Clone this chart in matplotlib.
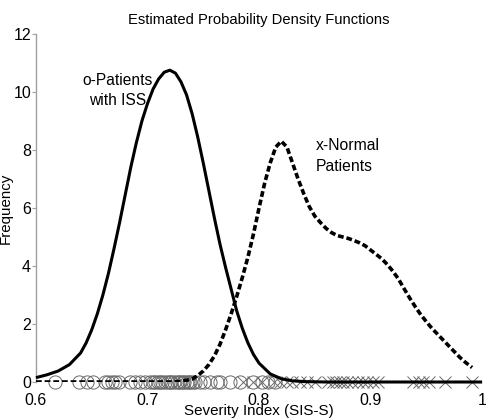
import numpy as np
from matplotlib import pyplot as plt

plt.rcParams['font.family'] = ['Liberation Sans', 'DejaVu Sans']

# Estimated density curves
iss_x = [0.60, 0.61, 0.62, 0.63, 0.64, 0.645, 0.65, 0.655, 0.66, 0.665, 0.67, 0.675, 0.68,
         0.685, 0.69, 0.695, 0.70, 0.705, 0.71, 0.715, 0.72, 0.725, 0.73, 0.735, 0.74, 0.745,
         0.75, 0.755, 0.76, 0.765, 0.77, 0.775, 0.78, 0.785, 0.79, 0.795, 0.80, 0.81, 0.82,
         0.83, 0.84, 0.86, 0.90, 0.95, 1.00]
iss_y = [0.15, 0.25, 0.38, 0.60, 1.00, 1.35, 1.80, 2.35, 3.00, 3.75, 4.60, 5.50, 6.45,
         7.40, 8.25, 9.00, 9.60, 10.10, 10.45, 10.68, 10.75, 10.65, 10.35, 9.90, 9.25, 8.45,
         7.55, 6.60, 5.65, 4.75, 3.95, 3.20, 2.45, 1.85, 1.35, 0.95, 0.65, 0.28, 0.11,
         0.04, 0.015, 0.0, 0.0, 0.0, 0.0]

normal_x = [0.60, 0.65, 0.70, 0.72, 0.73, 0.74, 0.745, 0.75, 0.755, 0.76, 0.765, 0.77, 0.775,
            0.78, 0.785, 0.79, 0.795, 0.80, 0.805, 0.81, 0.815, 0.82, 0.825, 0.83, 0.835, 0.84,
            0.845, 0.85, 0.855, 0.86, 0.865, 0.87, 0.875, 0.88, 0.885, 0.89, 0.895, 0.90, 0.905,
            0.91, 0.915, 0.92, 0.925, 0.93, 0.935, 0.94, 0.945, 0.95, 0.955, 0.96, 0.965, 0.97,
            0.975, 0.98, 0.985, 0.991]
normal_y = [0.0, 0.0, 0.0, 0.0, 0.02, 0.10, 0.22, 0.38, 0.60, 0.90, 1.30, 1.80, 2.35,
            2.95, 3.60, 4.30, 5.10, 6.00, 6.85, 7.55, 8.10, 8.30, 8.10, 7.55, 7.00, 6.50,
            6.05, 5.72, 5.50, 5.30, 5.15, 5.05, 5.00, 4.95, 4.88, 4.80, 4.70, 4.55, 4.40,
            4.25, 4.05, 3.82, 3.55, 3.22, 2.90, 2.60, 2.32, 2.08, 1.85, 1.65, 1.45, 1.25,
            1.05, 0.85, 0.68, 0.50]

# Observed severity indices (rug markers)
iss_obs = [0.617, 0.639, 0.646, 0.651, 0.662, 0.665, 0.668, 0.671, 0.674, 0.684, 0.689, 0.693,
           0.698, 0.702, 0.705, 0.707, 0.709, 0.711, 0.713, 0.716, 0.718, 0.720, 0.721, 0.724,
           0.726, 0.728, 0.729, 0.732, 0.733, 0.735, 0.737, 0.738, 0.741, 0.743, 0.747, 0.751,
           0.756, 0.762, 0.765, 0.774, 0.783, 0.795, 0.803, 0.808, 0.814]
normal_obs = [0.786, 0.795, 0.803, 0.813, 0.819, 0.825, 0.830, 0.837, 0.843, 0.850, 0.862,
              0.866, 0.869, 0.873, 0.875, 0.879, 0.883, 0.889, 0.893, 0.897, 0.902, 0.907,
              0.938, 0.943, 0.947, 0.952, 0.967, 0.991]

fig = plt.figure(figsize=(4.86, 4.19), dpi=100)
ax = fig.add_axes([0.074, 0.0883, 0.918, 0.8307])

ax.plot(iss_obs, np.zeros(len(iss_obs)), 'o', ms=9.5, mfc='none', mec='#6a6a6a', mew=0.7,
        clip_on=False, zorder=2)
ax.plot(normal_obs, np.zeros(len(normal_obs)), 'x', ms=8, mec='#6a6a6a', mew=0.7,
        clip_on=False, zorder=2)

ax.plot(iss_x, iss_y, color='black', lw=2.2, solid_capstyle='butt', clip_on=False, zorder=3)
ax.plot(normal_x, normal_y, color='black', lw=2.6, linestyle=(0, (1.6, 0.8)), zorder=3)

ax.text(0.673, 10.05, 'o-Patients\nwith ISS', ha='center', va='center', fontsize=11.2,
        linespacing=1.4)
ax.text(0.851, 7.78, 'x-Normal\nPatients', ha='left', va='center', fontsize=11.3,
        linespacing=1.5)

ax.set_xlim(0.6, 1.0)
ax.set_ylim(0, 12)
ax.set_xticks([0.6, 0.7, 0.8, 0.9, 1.0])
ax.set_xticklabels(['0.6', '0.7', '0.8', '0.9', '1'])
ax.set_yticks([0, 2, 4, 6, 8, 10, 12])

for s in ['top', 'right', 'bottom']:
    ax.spines[s].set_visible(False)
ax.spines['left'].set_color('#a0a0a0')
ax.spines['left'].set_linewidth(1.0)
ax.tick_params(axis='y', direction='out', length=3, color='#a0a0a0', labelsize=11.5, pad=0.5)
ax.tick_params(axis='x', direction='out', length=0, labelsize=11.5, pad=8)

ax.set_title('Estimated Probability Density Functions', fontsize=10.6, pad=7)
ax.set_xlabel('Severity Index (SIS-S)', fontsize=10.9, labelpad=-3)
ax.set_ylabel('Frequency', fontsize=10.9)
ax.yaxis.set_label_coords(-0.052, 0.5)

fig.savefig('out.png', dpi=100)
